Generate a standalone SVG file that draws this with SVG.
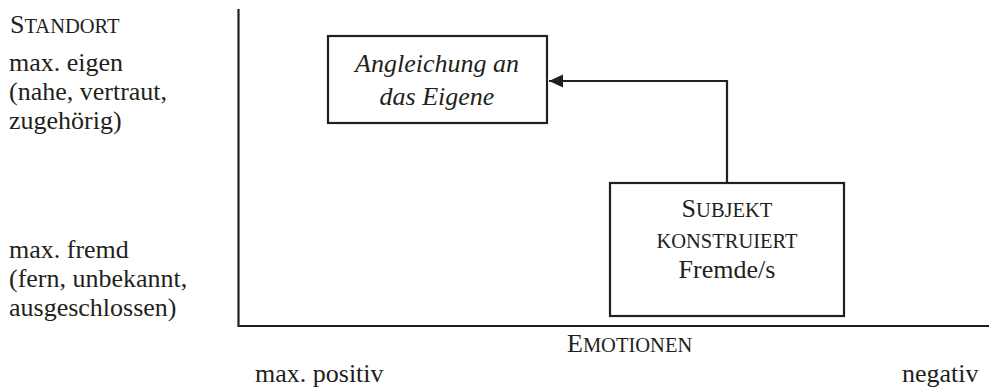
<svg xmlns="http://www.w3.org/2000/svg" width="989" height="387" viewBox="0 0 989 387">
<style>
text{font-family:"Liberation Serif","Times New Roman",serif;font-size:26px;fill:#231f20}
.sc{font-size:20.5px}
.it{font-style:italic}
.mid{text-anchor:middle}
.ln{stroke:#231f20;stroke-width:2.2;fill:none}
.box{stroke:#231f20;stroke-width:2.2;fill:#fff}
</style>
<defs>
<marker id="ah" markerUnits="userSpaceOnUse" markerWidth="16" markerHeight="14" refX="14" refY="6.5" orient="auto">
<path d="M0,0 L14,6.5 L0,13 Z" fill="#231f20"/>
</marker>
</defs>
<rect width="989" height="387" fill="#fff"/>
<g id="axes">
<path class="ln" d="M238.5,9 V326 H989"/>
</g>
<g id="labels-y">
<text x="10" y="33">S<tspan class="sc">TANDORT</tspan></text>
<text x="9" y="71">max. eigen</text>
<text x="9" y="100">(nahe, vertraut,</text>
<text x="9" y="129">zugehörig)</text>
<text x="9" y="258">max. fremd</text>
<text x="9" y="287">(fern, unbekannt,</text>
<text x="9" y="316">ausgeschlossen)</text>
</g>
<g id="labels-x">
<text x="567" y="352">E<tspan class="sc">MOTIONEN</tspan></text>
<text x="255" y="382">max. positiv</text>
<text x="902" y="382">negativ</text>
</g>
<g id="connectors">
<path class="ln" d="M727,183 V81 H549" marker-end="url(#ah)"/>
</g>
<g id="node-angleichung">
<rect class="box" x="328" y="36" width="219" height="87"/>
<text class="it mid" x="437" y="72">Angleichung an</text>
<text class="it mid" x="437" y="105">das Eigene</text>
</g>
<g id="node-subjekt">
<rect class="box" x="610" y="183" width="234" height="133"/>
<text class="mid" x="727" y="217">S<tspan class="sc">UBJEKT</tspan></text>
<text class="mid sc" x="727" y="248">KONSTRUIERT</text>
<text class="mid" x="727" y="278">Fremde/s</text>
</g>
</svg>
